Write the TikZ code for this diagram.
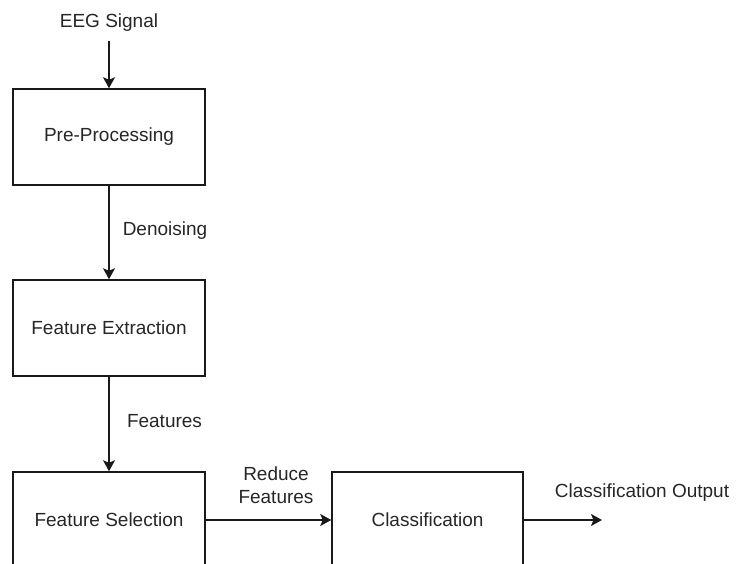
\documentclass[tikz,border=0pt]{standalone}
\usepackage{fontspec}
\setmainfont{Liberation Sans}
\usetikzlibrary{arrows.meta}
\begin{document}
\begin{tikzpicture}[x=1pt,y=1pt,
  stagebox/.style={draw=black!90, line width=1.5pt, inner sep=0pt, font=\fontsize{19}{22.5}\selectfont, text=black!85},
  lbl/.style={inner sep=0pt, font=\fontsize{19}{22.5}\selectfont, text=black!85, align=center},
  flow/.style={line width=1.5pt, draw=black!90, -{Stealth[length=11pt,width=12pt,inset=2.5pt]}}]
  \clip (0,0) rectangle (737,-564);
  \useasboundingbox (0,0) rectangle (737,-564);
  % processing stages
  \node[stagebox, minimum width=192pt, minimum height=96pt] (pre)  at (109,-137) {Pre-Processing};
  \node[stagebox, minimum width=192pt, minimum height=96pt] (fext) at (109,-328) {Feature Extraction};
  \node[stagebox, minimum width=192pt, minimum height=96pt] (fsel) at (109,-520) {Feature Selection};
  \node[stagebox, minimum width=191pt, minimum height=96pt] (cls)  at (427.5,-520) {Classification};
  % input and output
  \node[lbl] (eeg) at (109,-23) {EEG Signal};
  \coordinate (eegend) at (109,-41);
  \coordinate (outend) at (602,-520);
  \node[lbl] (out) at (642,-493) {Classification Output};
  % connectors
  \draw[flow] (eegend) -- (pre.north);
  \draw[flow] (pre.south) -- (fext.north);
  \draw[flow] (fext.south) -- (fsel.north);
  \draw[flow] (fsel.east) -- (cls.west);
  \draw[flow] (cls.east) -- (outend);
  % connector labels
  \node[lbl] (den) at (165,-231) {Denoising};
  \node[lbl] (feat) at (164.5,-421) {Features};
  \node[lbl] (red) at (276,-485) {Reduce\\Features};
\end{tikzpicture}
\end{document}
